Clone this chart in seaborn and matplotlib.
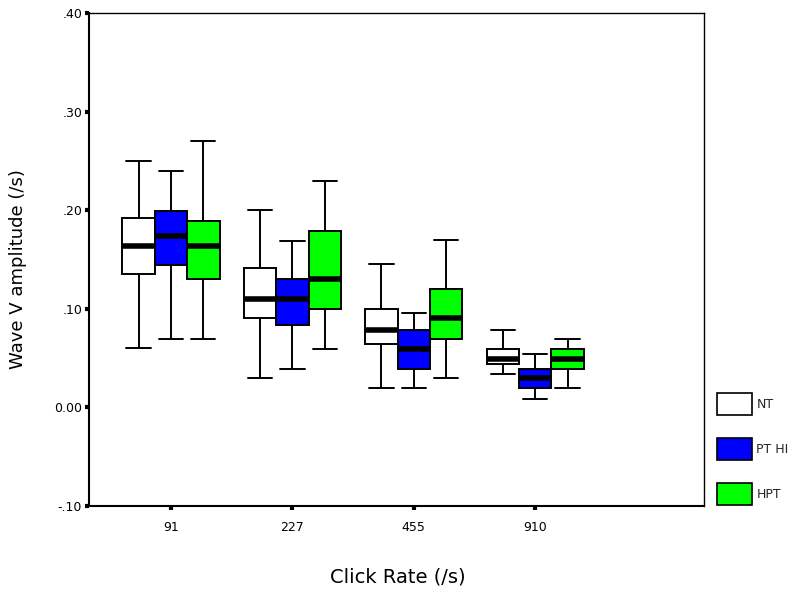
## Boxplot of wave V amplitude by click rate for three groups (SPSS style)

import pandas as pd
import numpy as np
import matplotlib
matplotlib.use("Agg")
import matplotlib.pyplot as plt
from matplotlib.patches import Patch
import seaborn as sns

## categories
rates = ["91", "227", "455", "910"]
groups = ["NT", "PT HI", "HPT"]
group_colors = ["#FFFFFF", "#0000FF", "#00FF00"]

## five number summaries: min, q1, median, q3, max
nt_stats = [[0.060, 0.135, 0.164, 0.192, 0.250],
            [0.030, 0.091, 0.110, 0.141, 0.200],
            [0.020, 0.064, 0.079, 0.100, 0.145],
            [0.034, 0.044, 0.049, 0.059, 0.079]]
pthi_stats = [[0.069, 0.144, 0.174, 0.199, 0.240],
              [0.039, 0.084, 0.110, 0.130, 0.169],
              [0.020, 0.039, 0.059, 0.079, 0.096],
              [0.009, 0.020, 0.030, 0.039, 0.054]]
hpt_stats = [[0.069, 0.130, 0.164, 0.189, 0.270],
             [0.059, 0.100, 0.130, 0.179, 0.230],
             [0.030, 0.069, 0.091, 0.120, 0.170],
             [0.020, 0.039, 0.049, 0.059, 0.069]]

## tick labels
y_ticks = [-0.10, 0.00, 0.10, 0.20, 0.30, 0.40]
y_tick_labels = ["-.10", "0.00", ".10", ".20", ".30", ".40"]

## build a long table, 5 points per box give exact quartiles with whis=(0,100)
rows = []
for g, stats in zip(groups, [nt_stats, pthi_stats, hpt_stats]):
    for r, s in zip(rates, stats):
        for v in s:
            rows.append({"Rate": r, "Group": g, "Amp": v})
df = pd.DataFrame(rows)

sns.set_style("white")
plt.rcParams["font.family"] = ["DejaVu Sans"]

fig = plt.figure(figsize=(8.03, 5.90), dpi=100)
ax = fig.add_axes([89 / 803, 1 - 506 / 590, 615 / 803, 493 / 590])

sns.boxplot(data=df, x="Rate", y="Amp", hue="Group", order=rates, hue_order=groups,
            palette=dict(zip(groups, group_colors)), saturation=1, whis=(0, 100),
            width=0.8, gap=0, linecolor="black", linewidth=1.4,
            medianprops={"linewidth": 4.0, "color": "black"},
            legend=False, ax=ax)

## shorten the caps a bit
for c in ax.containers:
    caps = getattr(c, "caps", [])
    for cap in caps:
        xs = cap.get_xdata()
        mid = np.mean(xs)
        cap.set_xdata([mid - 0.1, mid + 0.1])

ax.set_xlim(-0.675, 4.39)
ax.set_ylim(-0.10, 0.40)
ax.set_yticks(y_ticks)
ax.set_yticklabels(y_tick_labels)

ax.set_xlabel("Click Rate (/s)", fontsize=14, color="black")
ax.set_ylabel("Wave V amplitude (/s)", fontsize=13, color="black")
ax.xaxis.set_label_coords(0.502, -0.125)
ax.yaxis.set_label_coords(-0.115, 0.48)
ax.yaxis.label.set_va("center")

ax.tick_params(axis="both", direction="out", length=3, width=3, colors="black",
               labelsize=9, left=True, bottom=True)
ax.tick_params(axis="x", pad=8)
ax.tick_params(axis="y", pad=2)

for side in ["left", "bottom"]:
    ax.spines[side].set_linewidth(1.5)
    ax.spines[side].set_color("black")
for side in ["top", "right"]:
    ax.spines[side].set_linewidth(1.0)
    ax.spines[side].set_color("black")
    ax.spines[side].set_visible(True)

## legend outside on the right
handles = [Patch(facecolor=c, edgecolor="black", linewidth=1.2, label=g)
           for g, c in zip(groups, group_colors)]
fig.legend(handles=handles, loc="upper left", bbox_to_anchor=(717 / 803, 1 - 393 / 590),
           frameon=False, fontsize=9, handlelength=2.8, handleheight=2.3,
           labelspacing=1.85, handletextpad=0.35, borderpad=0, borderaxespad=0)

fig.savefig("out.png", dpi=100)
